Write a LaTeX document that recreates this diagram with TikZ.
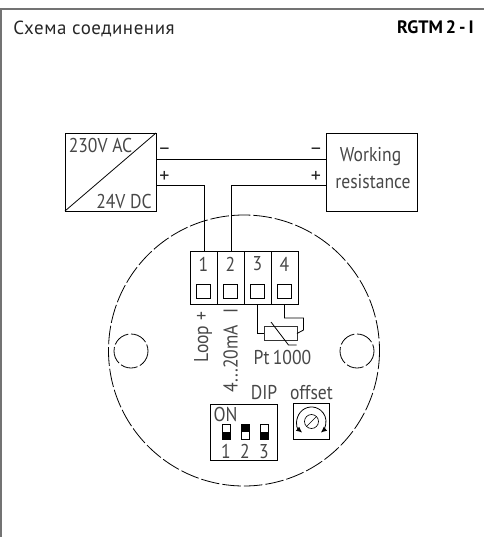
\documentclass[tikz,border=0pt]{standalone}
\usepackage{fontspec}
\setmainfont{PT Sans}
\newfontfamily\lblfont[FakeStretch=0.88]{PT Sans}
\newfontfamily\titlefont[LetterSpace=3]{PT Sans}
\usetikzlibrary{arrows.meta}
\tikzset{
  x=0.75pt,y=-0.75pt,
  wire/.style={line width=0.75pt,black},
  boxn/.style={draw=black,line width=0.75pt,inner sep=0pt,outer sep=0pt},
  lbl/.style={inner sep=0pt,outer sep=0pt,text=black!72,font=\lblfont\fontsize{15}{18}\selectfont},
  sgn/.style={inner sep=0pt,outer sep=0pt,text=black!85,font=\fontsize{15}{18}\selectfont},
  dashc/.style={line width=0.6pt,black,dash pattern=on 14pt off 2.2pt},
  dashs/.style={line width=0.6pt,black,dash pattern=on 13pt off 2pt},
  sw/.style={draw=black,line width=0.5pt,fill=white,minimum width=6pt,minimum height=11.5pt,inner sep=0pt,outer sep=0pt},
  fillsw/.style={fill=black,draw=black,line width=0.5pt},
}
\begin{document}
\begin{tikzpicture}
\useasboundingbox (0,0) rectangle (484,537);
\draw[line width=1.5pt,black!55] (1.5,537) -- (1.5,9) -- (484,9);
\node[inner sep=0pt,anchor=west,text=black!85,font=\titlefont\fontsize{14.2}{16}\selectfont] (title) at (13,28.5) {Схема соединения};
\node[inner sep=0pt,anchor=east,text=black,font=\fontsize{13.5}{15}\selectfont\bfseries] (model) at (474,27.5) {RGTM\,2\,-\,I};
% housing
\draw[dashc] (244,350.5) circle [radius=135.5];
\draw[dashs] (131,351) circle [radius=17];
\draw[dashs] (357,351) circle [radius=17];
% PSU
\node[boxn,minimum width=68.25pt,minimum height=58.5pt] (psu) at (110.5,172) {};
\draw[line width=0.6pt] (psu.south west) -- (psu.north east);
\node[lbl] (ac) at (100.5,145) {230V AC};
\node[lbl] (dc) at (124,201) {24V DC};
% Load
\node[boxn,minimum width=68.25pt,minimum height=58.5pt] (load) at (371.5,172) {};
\node[lbl] (w1) at (370.5,157) {Working};
\node[lbl] (w2) at (373,182) {resistance};
% terminal
\node[boxn,minimum width=81pt,minimum height=39.75pt] (term) at (244,277.5) {};
\foreach \x in {217,244,271} \draw[line width=0.75pt] (\x,251) -- (\x,304);
\foreach \n/\x in {1/203.5,2/230.5,3/257.5,4/284.5} {
  \node[lbl] (t\n) at (\x,264) {\n};
  \node[boxn,line width=0.6pt,minimum width=10pt,minimum height=10pt] (s\n) at (\x,291.5) {};
}
% wires
\coordinate (pm) at (156,159); \coordinate (pp) at (156,185);
\coordinate (lm) at (326,159); \coordinate (lp) at (326,185);
\coordinate (c1) at (204.5,251); \coordinate (c2) at (231,251);
\draw[wire] (pm) -- (lm);
\draw[wire] (pp) -| (c1);
\draw[wire] (lp) -| (c2);
\node[sgn] (m1) at (164.5,151.5) {–};
\node[sgn] (p1) at (164.5,177) {+};
\node[sgn] (m2) at (316,151.5) {–};
\node[sgn] (p2) at (316,177) {+};
% Pt1000
\node[boxn,line width=0.6pt,draw=black!80,minimum width=24.75pt,minimum height=10pt] (rt) at (280.5,333.5) {};
\coordinate (c3) at (257.5,304); \coordinate (c4) at (284.5,304);
\draw[line width=0.6pt] (c3) |- (rt.west);
\draw[line width=0.6pt] (c4) -- (284.5,318) -- (303.5,318) -- (303.5,330) -- (rt.east);
\draw[line width=0.6pt] (271,322) -- (288.5,345) -- (296.5,345);
\node[lbl] (pt) at (282.5,357) {Pt\,1000};
% rotated
\node[lbl,rotate=90,anchor=west] (loop) at (203,362) {Loop +};
\node[lbl,rotate=90,anchor=west] (ma) at (230.5,392) {4...20mA\,\, I};
% DIP
\node[lbl] (dip) at (264,392.5) {DIP};
\node[lbl] (off) at (311.5,392.5) {offset};
\node[boxn,minimum width=50.5pt,minimum height=42pt] (dipb) at (244,432) {};
\node[lbl,anchor=west] (on) at (213.5,414.5) {ON};
\foreach \n/\x/\f in {1/226/0,2/245/1,3/264/0} {
  \node[sw] (d\n) at (\x,432) {};
  \ifnum\f=0
    \fill[fillsw] (\x-4,432.5) rectangle (\x+4,439.5);
  \else
    \fill[fillsw] (\x-4,424.5) rectangle (\x+4,431.5);
  \fi
  \node[lbl] (n\n) at (\x,451.5) {\n};
}
% offset
\node[boxn,minimum width=27.5pt,minimum height=27pt] (offb) at (311.5,421.5) {};
\draw[line width=0.6pt,{Latex[length=4.5pt,width=4pt]}-{Latex[length=4.5pt,width=4pt]}] (311.5,421.5) ++(130:14.5) arc (130:410:14.5);
\draw[line width=0.5pt] (311.5,421.5) circle [radius=7];
\draw[line width=0.5pt] (306.5,426.5) -- (316.5,416.5);
\end{tikzpicture}
\end{document}
